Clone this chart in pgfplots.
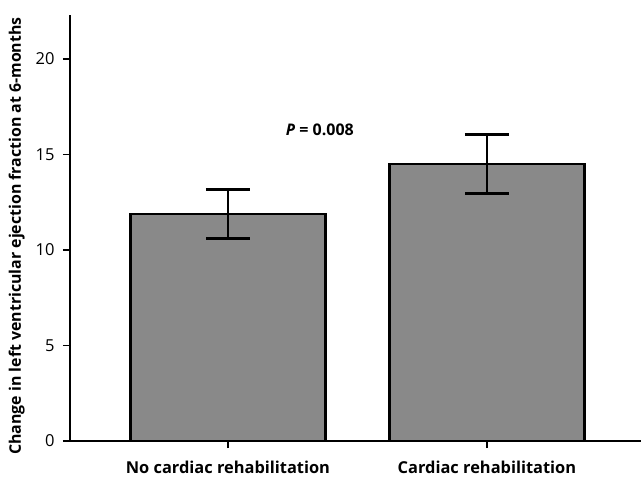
\documentclass[border=0pt]{standalone}
\usepackage{fontspec}
\setmainfont{Open Sans}
\usepackage{pgfplots}
\pgfplotsset{compat=1.18}
\definecolor{barfill}{HTML}{898989}
\begin{document}
\begin{tikzpicture}
\begin{axis}[
  scale only axis, width=571pt, height=426pt,
  xmin=-0.61, xmax=1.595, ymin=0, ymax=22.3,
  axis lines=left, axis line style={-, line width=2.3pt},
  ytick={0,5,10,15,20},
  xtick={0,1},
  xticklabels={No cardiac rehabilitation, Cardiac rehabilitation},
  tick align=outside, major tick length=7pt,
  tick style={line width=1.6pt, black},
  /pgf/number format/assume math mode=true,
  yticklabel style={font=\fontsize{16.5}{18}\selectfont, xshift=-5pt},
  xticklabel style={font=\bfseries\fontsize{16.4}{18}\selectfont, yshift=-9.5pt},
  ylabel={Change in left ventricular ejection fraction at 6-months},
  ylabel style={font=\bfseries\fontsize{15.9}{18}\selectfont, yshift=4pt, xshift=-8pt},
  ybar, bar width=195pt,
  clip=false,
]
\addplot[fill=barfill, draw=black, line width=2.5pt,
  error bars/.cd, y dir=both, y explicit,
  error bar style={line width=2.5pt, black},
  error mark options={rotate=90, mark size=22pt, line width=2.5pt, black}]
  coordinates {(0,11.88) +- (0,1.28) (1,14.5) +- (0,1.55)};
\node[font=\bfseries\fontsize{16}{18}\selectfont] at (axis cs:0.355,16.3) {\textit{P} = 0.008};
\end{axis}
\pgfresetboundingbox
\path[use as bounding box] ([shift={(-70pt,-36pt)}]current axis.south west) rectangle ([shift={(0pt,15pt)}]current axis.north east);
\end{tikzpicture}
\end{document}
